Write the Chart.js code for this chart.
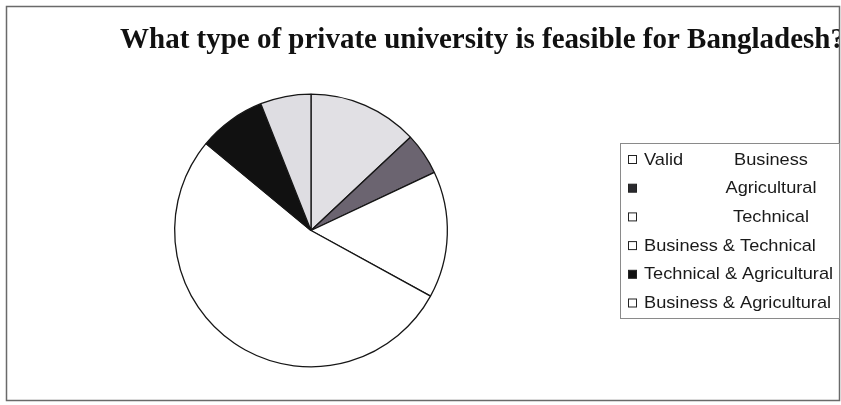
<!DOCTYPE html>
<html>
<head>
<meta charset="utf-8">
<script src="https://cdn.jsdelivr.net/npm/chart.js@4/dist/chart.umd.min.js"></script>
<style>
  html, body { margin: 0; padding: 0; background: #fff; }
  #wrap { width: 841px; height: 405px; position: relative; }
</style>
</head>
<body>
<div id="wrap"><canvas id="c" width="841" height="405"></canvas></div>
<script>
// Survey answers: share of respondents (%) per type of private university
const categories = [
  "Business",
  "Agricultural",
  "Technical",
  "Business & Technical",
  "Technical & Agricultural",
  "Business & Agricultural"
];
const shares = [13, 5, 15, 53, 8, 6];
// First legend rows sit under a "Valid" column header
const legendPrefix = ["Valid", "", "", null, null, null];
const titleText = "What type of private university is feasible for Bangladesh?";

const sliceColors = ["#e1e0e4", "#6b6470", "#ffffff", "#ffffff", "#111111", "#dedde2"];
const swatchColors = ["#ffffff", "#2a2a2e", "#ffffff", "#ffffff", "#111111", "#ffffff"];

const frameAndLegend = {
  id: "frameAndLegend",
  afterDraw(chart) {
    const ctx = chart.ctx;
    ctx.save();

    // title, clipped by the frame on the right
    ctx.save();
    ctx.beginPath();
    ctx.rect(7, 7, 832, 393);
    ctx.clip();
    ctx.fillStyle = "#111";
    ctx.font = "bold 29px 'Liberation Serif', 'Times New Roman', serif";
    ctx.textBaseline = "alphabetic";
    ctx.textAlign = "left";
    ctx.fillText(titleText, 120, 48);
    ctx.restore();

    // outer frame
    ctx.strokeStyle = "#6a6a6a";
    ctx.lineWidth = 1.5;
    ctx.strokeRect(6.5, 6.5, 833, 394);

    // legend box
    ctx.strokeStyle = "#8a8a8a";
    ctx.lineWidth = 1;
    ctx.fillStyle = "#fff";
    ctx.fillRect(620.5, 143.5, 219, 175);
    ctx.strokeRect(620.5, 143.5, 219, 175);

    ctx.font = "17px 'Liberation Sans', Arial, sans-serif";
    ctx.textBaseline = "middle";
    const sx = 1.07;
    const labels = chart.data.labels;
    const rowH = 28.7;
    const drawText = (t, x, y, align) => {
      ctx.save();
      ctx.translate(x, y);
      ctx.scale(sx, 1);
      ctx.textAlign = align;
      ctx.fillText(t, 0, 0);
      ctx.restore();
    };
    labels.forEach((lab, i) => {
      const y = 160 + i * rowH;
      ctx.fillStyle = swatchColors[i];
      ctx.fillRect(628.5, y - 4.5, 8, 8);
      ctx.strokeStyle = "#222";
      ctx.lineWidth = 1;
      ctx.strokeRect(628.5, y - 4.5, 8, 8);
      ctx.fillStyle = "#1a1a1a";
      if (legendPrefix[i] === null) {
        drawText(lab, 644, y, "left");
      } else {
        drawText(legendPrefix[i], 644, y, "left");
        drawText(lab, 771, y, "center");
      }
    });
    ctx.restore();
  }
};

new Chart(document.getElementById("c"), {
  type: "pie",
  data: {
    labels: categories,
    datasets: [{
      data: shares,
      backgroundColor: sliceColors,
      borderColor: "#161616",
      borderWidth: 1.3
    }]
  },
  options: {
    responsive: false,
    animation: false,
    events: [],
    layout: { padding: { left: 174, right: 393, top: 93, bottom: 37 } },
    plugins: {
      legend: { display: false },
      title: { display: false },
      tooltip: { enabled: false }
    }
  },
  plugins: [frameAndLegend]
});
</script>
</body>
</html>
